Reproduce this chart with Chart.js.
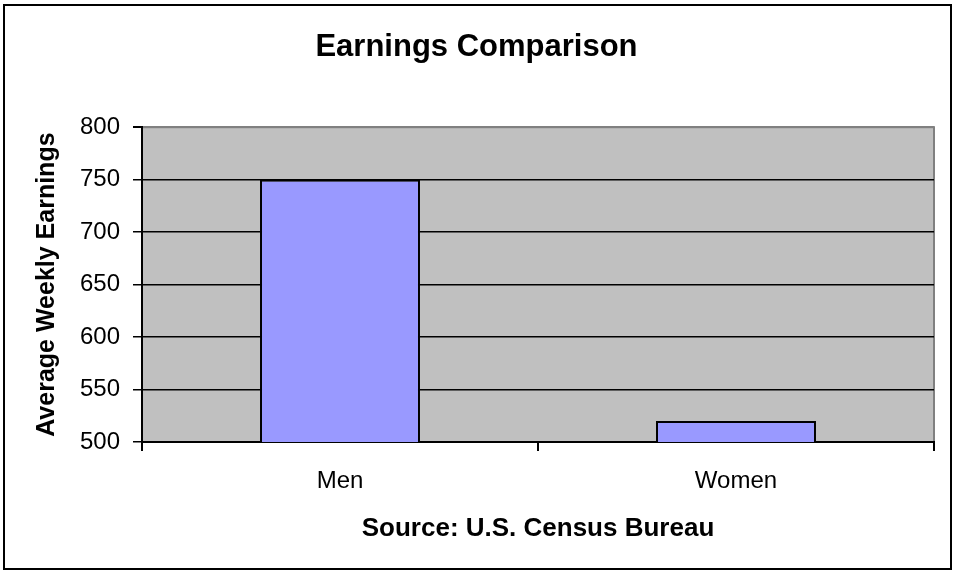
<!DOCTYPE html>
<html>
<head>
<meta charset="utf-8">
<title>Earnings Comparison</title>
<script src="https://cdn.jsdelivr.net/npm/chart.js@4.4.1/dist/chart.umd.min.js"></script>
<style>
  html, body { margin: 0; padding: 0; background: #fff; }
  canvas { display: block; }
</style>
</head>
<body>
<canvas id="earningsChart" width="953" height="573"></canvas>
<script>
// Chart data
const categories = ['Men', 'Women'];
const weeklyEarnings = [750, 520];
const yTicks = [500, 550, 600, 650, 700, 750, 800];

const FONT = "'Liberation Sans', Arial, sans-serif";

// Gray plot background + outer frame
const frame = {
    id: 'frame',
    beforeDraw(chart) {
        const { ctx, chartArea: a } = chart;
        ctx.save();
        ctx.fillStyle = '#fff';
        ctx.fillRect(0, 0, chart.width, chart.height);
        ctx.fillStyle = '#c0c0c0';
        ctx.fillRect(a.left, a.top, a.right - a.left, a.bottom - a.top);
        ctx.strokeStyle = '#808080';
        ctx.lineWidth = 2;
        ctx.strokeRect(a.left, a.top, a.right - a.left, a.bottom - a.top);
        ctx.restore();
    },
    afterDraw(chart) {
        const ctx = chart.ctx;
        ctx.save();
        ctx.strokeStyle = '#000';
        ctx.lineWidth = 2;
        ctx.strokeRect(4, 5, 947, 564);
        ctx.restore();
    }
};

const ctx = document.getElementById('earningsChart').getContext('2d');
const chart = new Chart(ctx, {
    type: 'bar',
    data: {
        labels: categories,
        datasets: [{
            label: 'Average Weekly Earnings',
            data: weeklyEarnings,
            backgroundColor: '#9999ff',
            borderColor: '#000',
            borderWidth: 2,
            barPercentage: 0.404,
            categoryPercentage: 1
        }]
    },
    options: {
        responsive: false,
        animation: false,
        layout: { padding: 0 },
        plugins: {
            legend: { display: false },
            tooltip: { enabled: false },
            title: {
                display: true,
                text: 'Earnings Comparison',
                color: '#000',
                font: { family: FONT, size: 31, weight: 'bold' },
                padding: { top: 29, bottom: 61 }
            }
        },
        scales: {
            x: {
                grid: {
                    offset: true,
                    drawOnChartArea: false,
                    color: '#000',
                    lineWidth: 2,
                    tickLength: 9
                },
                border: { color: '#000', width: 2 },
                ticks: {
                    color: '#000',
                    padding: 16,
                    font: { family: FONT, size: 24 }
                },
                title: {
                    display: true,
                    text: 'Source: U.S. Census Bureau',
                    color: '#000',
                    font: { family: FONT, size: 26, weight: 'bold' },
                    padding: { top: 0, bottom: 29 }
                },
                afterFit(scale) { scale.height = 131; }
            },
            y: {
                min: yTicks[0],
                max: yTicks[yTicks.length - 1],
                afterBuildTicks(scale) {
                    scale.ticks = yTicks.map(v => ({ value: v }));
                },
                grid: {
                    color: c => c.tick && c.tick.value === 800 ? '#808080' : '#000',
                    lineWidth: c => c.tick && c.tick.value === 800 ? 2 : 1.5,
                    tickColor: '#000',
                    tickLength: 9
                },
                border: { color: '#000', width: 2 },
                ticks: {
                    color: '#000',
                    padding: 13,
                    font: { family: FONT, size: 24 }
                },
                title: {
                    display: true,
                    text: 'Average Weekly Earnings',
                    color: '#000',
                    font: { family: FONT, size: 25, weight: 'bold' },
                    padding: { top: 32, bottom: 0 }
                },
                afterFit(scale) { scale.width = 142; }
            },
            // empty right-hand margin so the title stays centred on the page
            yRight: {
                position: 'right',
                display: true,
                grid: { display: false },
                border: { display: false },
                ticks: { display: false },
                afterFit(scale) { scale.width = 19; }
            }
        }
    },
    plugins: [frame]
});
</script>
</body>
</html>
